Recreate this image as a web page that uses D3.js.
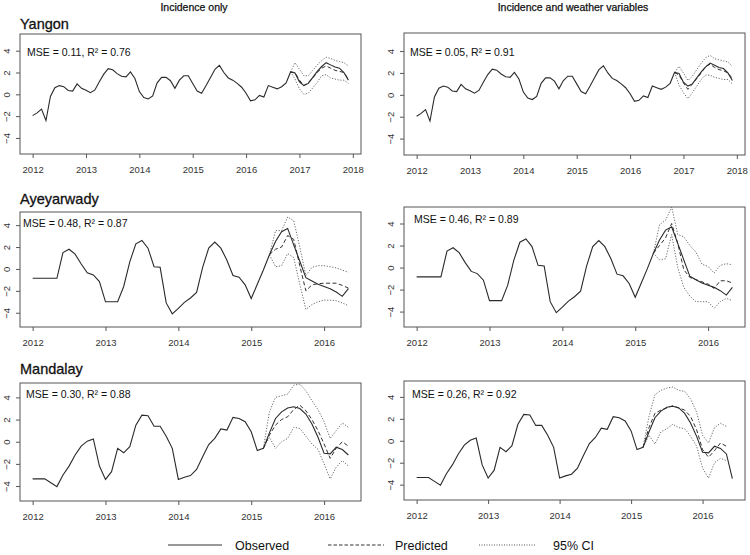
<!DOCTYPE html>
<html><head><meta charset="utf-8">
<script src="https://cdn.jsdelivr.net/npm/d3@7/dist/d3.min.js"></script>
<style>
body{margin:0;background:#fff;}
svg text{font-family:"Liberation Sans",Arial,Helvetica,sans-serif;}
</style>
</head><body>
<svg id="chart" width="750" height="555"></svg>
<script>
// ---------- data ----------
const columnTitles = ["Incidence only", "Incidence and weather variables"];
const regions = ["Yangon", "Ayeyarwady", "Mandalay"];
const yTicks = [-4, -2, 0, 2, 4];
const yangonYearTicks = [2012, 2013, 2014, 2015, 2016, 2017, 2018];
const shortYearTicks = [2012, 2013, 2014, 2015, 2016];
const legendLabels = ["Observed", "Predicted", "95% CI"];
const mseLabels = [
  ["MSE = 0.11, R\u00B2 = 0.76", "MSE = 0.05, R\u00B2 = 0.91"],
  ["MSE = 0.48, R\u00B2 = 0.87", "MSE = 0.46, R\u00B2 = 0.89"],
  ["MSE = 0.30, R\u00B2 = 0.88", "MSE = 0.26, R\u00B2 = 0.92"]
];

// monthly observed series, first value = Jan 2012
const yangonObserved = [
  -1.95,-1.7,-1.35,-2.4,-0.2,0.6,0.8,0.7,0.35,0.3,0.95,0.55,
  0.37,0.15,0.4,1.15,1.85,2.35,2.25,1.9,1.65,1.6,2.05,1.45,
  0.25,-0.3,-0.43,-0.15,1.05,1.55,1.55,1.25,0.55,1.3,1.7,1.7,
  1.0,0.3,0.1,0.8,1.55,2.3,2.65,2.0,1.5,1.3,1.0,0.65,
  0.1,-0.6,-0.5,-0.1,-0.25,0.8,0.65,0.5,0.7,1.05,2.05,1.95,
  1.15,0.8,1.0,1.55,2.1,2.55,2.9,2.7,2.5,2.4,2.0,1.3];
const yangonForecastStart = 58; // Nov 2016
const yangonPredInc  = [2.05,2.0,1.3,0.8,1.1,1.5,2.0,2.4,2.6,2.4,2.2,2.1,2.0,1.4];
const yangonHiInc    = [2.05,2.9,2.3,1.7,1.7,2.2,2.7,3.1,3.4,3.3,3.1,3.0,2.9,2.6];
const yangonLoInc    = [2.05,1.4,0.5,0.0,0.1,0.6,1.1,1.7,1.8,1.5,1.4,1.3,1.3,1.0];
const yangonPredWx   = [2.05,1.8,1.1,0.5,1.0,1.5,2.0,2.6,2.8,2.5,2.3,2.2,2.0,1.5];
const yangonHiWx     = [2.05,2.6,2.0,1.3,1.7,2.3,2.9,3.4,3.6,3.3,3.2,3.1,3.0,2.6];
const yangonLoWx     = [2.05,0.9,0.2,-0.35,0.2,0.8,1.4,1.8,1.8,1.6,1.5,1.4,1.4,1.0];

const ayeyObserved = [
  -0.85,-0.85,-0.85,-0.85,-0.85,1.5,1.8,1.35,0.45,-0.35,-0.55,-1.15,
  -3.0,-3.0,-3.0,-1.6,0.65,2.3,2.6,1.9,0.2,0.15,-3.1,-4.1,
  -3.6,-3.05,-2.65,-2.15,0.15,1.9,2.45,1.9,0.8,-0.6,-0.75,-1.45,
  -2.7,-1.4,-0.1,1.3,2.5,3.4,3.7,2.2,0.7,-0.8,-1.1,-1.4,
  -1.6,-1.8,-2.1,-2.5,-1.8];
const ayeyForecastStart = 39; // Apr 2015
const ayeyPredInc = [1.3,1.8,2.0,3.05,2.7,0.3,-2.0,-1.45,-1.35,-1.3,-1.3,-1.3,-1.5,-1.75];
const ayeyHiInc   = [1.3,3.5,3.5,4.75,4.4,2.0,-0.6,0.15,0.3,0.3,0.2,0.1,-0.1,-0.3];
const ayeyLoInc   = [1.3,0.2,0.3,1.4,1.05,-1.4,-3.7,-3.25,-3.0,-2.85,-2.85,-2.9,-3.1,-3.35];
const ayeyPredWx  = [1.3,2.0,2.7,4.0,2.2,-0.2,-0.9,-1.1,-1.3,-1.5,-1.9,-1.2,-1.2,-1.4];
const ayeyHiWx    = [1.3,3.9,4.3,5.5,3.0,2.8,2.0,1.4,0.3,0.1,-0.5,0.2,0.35,0.25];
const ayeyLoWx    = [1.3,0.7,0.8,3.0,0.0,-1.8,-2.6,-3.1,-3.1,-3.1,-3.7,-3.1,-2.8,-3.0];

const mandObserved = [
  -3.35,-3.35,-3.35,-3.7,-4.05,-3.0,-2.2,-1.2,-0.4,0.05,0.25,-2.2,
  -3.4,-2.7,-0.6,-1.0,-0.45,1.5,2.4,2.35,1.4,1.4,0.5,-0.6,
  -3.4,-3.2,-3.05,-2.5,-1.35,-0.25,0.3,1.15,1.05,2.2,2.1,1.8,
  0.9,-0.8,-0.6,0.8,2.1,2.7,3.05,3.15,3.0,2.5,1.6,0.4,
  -1.05,-1.1,-0.5,-0.7,-1.2,-3.45];
const mandObservedMonthsInc = 53; // Jan 2012 - May 2016
const mandObservedMonthsWx = 54;  // Jan 2012 - Jun 2016
const mandForecastStart = 38; // Mar 2015
const mandPredInc = [-0.6,0.6,1.5,2.0,2.25,2.9,3.3,2.8,2.0,1.0,-0.2,-1.5,-0.6,0.0,-0.4];
const mandHiInc   = [-0.6,2.7,4.0,4.15,4.3,5.1,5.2,4.6,3.7,2.9,1.8,0.3,1.0,1.7,1.3];
const mandLoInc   = [-0.6,0.4,-0.6,0.0,0.3,1.3,1.2,0.5,-0.2,-0.7,-2.0,-3.35,-2.3,-1.7,-2.2];
const mandPredWx  = [-0.6,1.2,2.5,2.8,3.0,3.2,3.0,2.8,2.2,1.0,-0.8,-1.5,-0.9,-0.2,-0.5];
const mandHiWx    = [-0.6,2.2,4.2,4.6,4.8,4.9,4.6,4.5,3.8,2.6,0.5,-0.2,1.2,1.6,1.3];
const mandLoWx    = [-0.6,0.5,-0.3,0.8,1.1,1.5,1.2,1.1,0.4,-0.5,-2.5,-3.4,-2.0,-1.6,-1.8];

// ---------- layout ----------
const panels = [
  {row:0,col:0,obs:yangonObserved,start:yangonForecastStart,pred:yangonPredInc,hi:yangonHiInc,lo:yangonLoInc,ticks:yangonYearTicks,
   box:[20,361,34,154],ydom:[-5.47,5.53],msePos:[27,56]},
  {row:0,col:1,obs:yangonObserved,start:yangonForecastStart,pred:yangonPredWx,hi:yangonHiWx,lo:yangonLoWx,ticks:yangonYearTicks,
   box:[404,745,33,155],ydom:[-5.5,5.65],msePos:[410,56]},
  {row:1,col:0,obs:ayeyObserved,start:ayeyForecastStart,pred:ayeyPredInc,hi:ayeyHiInc,lo:ayeyLoInc,ticks:shortYearTicks,
   box:[20,361,212,327],ydom:[-5.3,5.2],msePos:[23,227]},
  {row:1,col:1,obs:ayeyObserved,start:ayeyForecastStart,pred:ayeyPredWx,hi:ayeyHiWx,lo:ayeyLoWx,ticks:shortYearTicks,
   box:[404,745,207,327],ydom:[-5.4,5.5],msePos:[414,223]},
  {row:2,col:0,obs:mandObserved.slice(0,mandObservedMonthsInc),start:mandForecastStart,pred:mandPredInc,hi:mandHiInc,lo:mandLoInc,ticks:shortYearTicks,
   box:[20,361,383,501],ydom:[-5.35,5.3],msePos:[26,398]},
  {row:2,col:1,obs:mandObserved.slice(0,mandObservedMonthsWx),start:mandForecastStart,pred:mandPredWx,hi:mandHiWx,lo:mandLoWx,ticks:shortYearTicks,
   box:[404,745,381,500],ydom:[-5.4,5.45],msePos:[412,398]}
];
const titlePos = [[20,29],[20,204],[20,374]];
const monthToYear = m => 2012 + m / 12;

const svg = d3.select("#chart");
const textColor = "#111";

// column headers
svg.selectAll("text.colhead").data(columnTitles).join("text")
  .attr("class","colhead")
  .attr("x",(d,i)=> i===0 ? 194 : 573).attr("y",11)
  .attr("text-anchor","middle").attr("font-size",10.5)
  .attr("fill",textColor).attr("stroke",textColor).attr("stroke-width",0.25).text(d=>d);

// region titles
regions.forEach((r,i)=>{
  svg.append("text").attr("x",titlePos[i][0]).attr("y",titlePos[i][1])
    .attr("font-size",14.5).attr("fill","#111").attr("stroke","#111").attr("stroke-width",0.3).text(r);
});

panels.forEach((p,pi)=>{
  const [x0,x1,y0,y1] = p.box;
  const lastMonth = p.obs.length - 1;
  const pad = lastMonth * 0.04;
  const x = d3.scaleLinear().domain([monthToYear(-pad), monthToYear(lastMonth + pad)]).range([x0,x1]);
  const y = d3.scaleLinear().domain(p.ydom).range([y1,y0]);
  const g = svg.append("g");
  const clipId = "clip"+pi;
  g.append("clipPath").attr("id",clipId).append("rect")
    .attr("x",x0).attr("y",y0).attr("width",x1-x0).attr("height",y1-y0);

  // x axis
  const xa = g.append("g").attr("transform",`translate(0,${y1})`)
    .call(d3.axisBottom(x).tickValues(p.ticks).tickFormat(d3.format("d")).tickSize(4).tickPadding(8));
  xa.select(".domain").remove();
  xa.selectAll("line").attr("stroke","#555");
  xa.selectAll("text").attr("font-size",9.5).attr("fill","#333").attr("font-family",null);

  // y axis
  const ya = g.append("g").attr("transform",`translate(${x0},0)`)
    .call(d3.axisLeft(y).tickValues(yTicks).tickFormat(d3.format("d")).tickSize(4));
  ya.select(".domain").remove();
  ya.selectAll("line").attr("stroke","#555");
  ya.selectAll("text").attr("font-size",9.5).attr("fill","#333").attr("font-family",null)
    .attr("transform","rotate(-90)").attr("x",0).attr("y",-10.5).attr("dy",0)
    .attr("text-anchor","middle");

  // lines
  const lineObs = d3.line().x((d,i)=>x(monthToYear(i))).y(d=>y(d));
  const lineFc = d3.line().x((d,i)=>x(monthToYear(p.start + i))).y(d=>y(d));
  const lg = g.append("g").attr("clip-path",`url(#${clipId})`).attr("fill","none");
  lg.append("path").datum(p.hi).attr("d",lineFc).attr("stroke","#6a6a6a").attr("stroke-width",1).attr("stroke-dasharray","1.2,1.6");
  lg.append("path").datum(p.lo).attr("d",lineFc).attr("stroke","#6a6a6a").attr("stroke-width",1).attr("stroke-dasharray","1.2,1.6");
  lg.append("path").datum(p.pred).attr("d",lineFc).attr("stroke","#333").attr("stroke-width",1).attr("stroke-dasharray","4,2.5");
  lg.append("path").datum(p.obs).attr("d",lineObs).attr("stroke","#2a2a2a").attr("stroke-width",1.1);

  // box
  g.append("rect").attr("x",x0).attr("y",y0).attr("width",x1-x0).attr("height",y1-y0)
    .attr("fill","none").attr("stroke","#555").attr("stroke-width",1);

  // MSE label
  g.append("text").attr("x",p.msePos[0]).attr("y",p.msePos[1]).attr("font-size",10.5)
    .attr("fill","#111").text(mseLabels[p.row][p.col]);
});

// legend
const legendItems = [
  {x1:168,x2:222,tx:235,dash:null,color:"#333"},
  {x1:328,x2:384,tx:395,dash:"3.5,2",color:"#333"},
  {x1:479,x2:536,tx:553,dash:"1,1.5",color:"#555"}
];
const legY = 545;
legendItems.forEach((it,i)=>{
  svg.append("line").attr("x1",it.x1).attr("x2",it.x2).attr("y1",legY).attr("y2",legY)
    .attr("stroke",it.color).attr("stroke-width",1).attr("stroke-dasharray",it.dash);
  svg.append("text").attr("x",it.tx).attr("y",legY+4.5).attr("font-size",12.5)
    .attr("fill","#111").text(legendLabels[i]);
});
</script>
</body></html>
